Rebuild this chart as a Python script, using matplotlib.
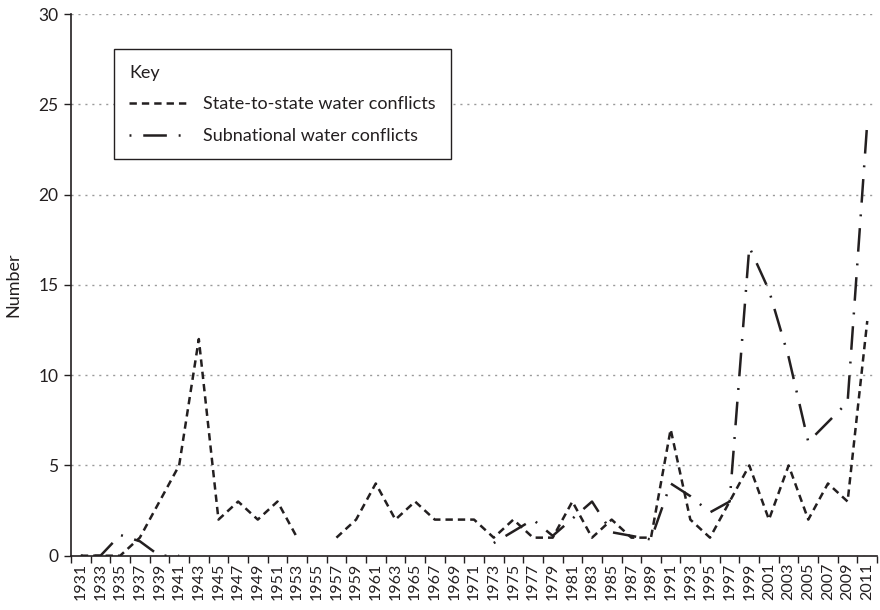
import numpy as np
import matplotlib
matplotlib.use("Agg")
import matplotlib.pyplot as plt
from matplotlib.lines import Line2D

plt.rcParams['font.family'] = ['Lato', 'DejaVu Sans']
plt.rcParams['lines.scale_dashes'] = False

nan = np.nan

years = [1931, 1933, 1935, 1937, 1939, 1941, 1943, 1945, 1947, 1949,
         1951, 1953, 1955, 1957, 1959, 1961, 1963, 1965, 1967, 1969,
         1971, 1973, 1975, 1977, 1979, 1981, 1983, 1985, 1987, 1989,
         1991, 1993, 1995, 1997, 1999, 2001, 2003, 2005, 2007, 2009, 2011]

state_to_state = [0, 0, 0, 1, 3, 5, 12, 2, 3, 2,
                  3, 1, nan, 1, 2, 4, 2, 3, 2, 2,
                  2, 1, 2, 1, 1, 3, 1, 2, 1, 1,
                  7, 2, 1, 3, 5, 2, 5, 2, 4, 3, 13]

subnational = [0, 0, 1.15, 0.8, 0, 0, nan, nan, nan, nan,
               nan, nan, nan, nan, nan, nan, nan, nan, nan, nan,
               nan, 0.7, 1.35, 2, 1.1, 2.05, 3, 1.3, 1.1, 0.9,
               4, 3.3, 2.4, 3, 17.1, 14.7, 11, 6.3, 7.4, 8.5, 24]

ink = '#231f20'
dash_state = (0, (5.3, 3.6))
dash_sub = (25.5, (17, 8.5, 1.4, 8.5))

fig = plt.figure(figsize=(8.8, 6.1), dpi=100)
ax = fig.add_axes([0.0807, 0.089, 0.916, 0.888])

ax.plot(years, state_to_state, color=ink, lw=1.8, linestyle=dash_state,
        dash_capstyle='butt')
ax.plot(years, subnational, color=ink, lw=1.8, linestyle=dash_sub,
        dash_capstyle='butt')

ax.set_xlim(1930, 2012)
ax.set_ylim(0, 30)

# category style axis: tick marks at boundaries, labels in the middle
ax.set_xticks(years)
ax.set_xticklabels([str(y) for y in years], rotation=90, fontsize=11.5, color=ink)
ax.set_xticks(np.arange(1930, 2013, 2), minor=True)
ax.tick_params(axis='x', which='major', length=0, pad=5)
ax.tick_params(axis='x', which='minor', length=5, width=1, direction='out', color=ink)

ax.set_yticks([0, 5, 10, 15, 20, 25, 30])
ax.tick_params(axis='y', length=5, width=1, direction='out', color=ink,
               labelsize=12.5, labelcolor=ink, pad=4)
ax.set_ylabel('Number', fontsize=13, color=ink, labelpad=12)

ax.yaxis.grid(True, color='#9a9a9a', linestyle=(0, (1.5, 3.5)), lw=1)
ax.set_axisbelow(True)

for s in ['top', 'right']:
    ax.spines[s].set_visible(False)
for s in ['left', 'bottom']:
    ax.spines[s].set_color(ink)
    ax.spines[s].set_linewidth(1.2)

handles = [Line2D([], [], color=ink, lw=1.8, linestyle=dash_state, dash_capstyle='butt'),
           Line2D([], [], color=ink, lw=1.8, linestyle=dash_sub, dash_capstyle='butt')]
leg = ax.legend(handles, ['State-to-state water conflicts', 'Subnational water conflicts'],
                title='Key', loc='upper left', bbox_to_anchor=(0.0533, 0.935),
                borderaxespad=0, fontsize=13, title_fontsize=13, alignment='left',
                handlelength=3.2, handletextpad=0.9, borderpad=0.85, labelspacing=0.87,
                fancybox=False, framealpha=1, edgecolor=ink)
leg.get_frame().set_linewidth(1.0)
for t in leg.get_texts():
    t.set_color(ink)
leg.get_title().set_color(ink)

fig.savefig('out.png', dpi=100)
